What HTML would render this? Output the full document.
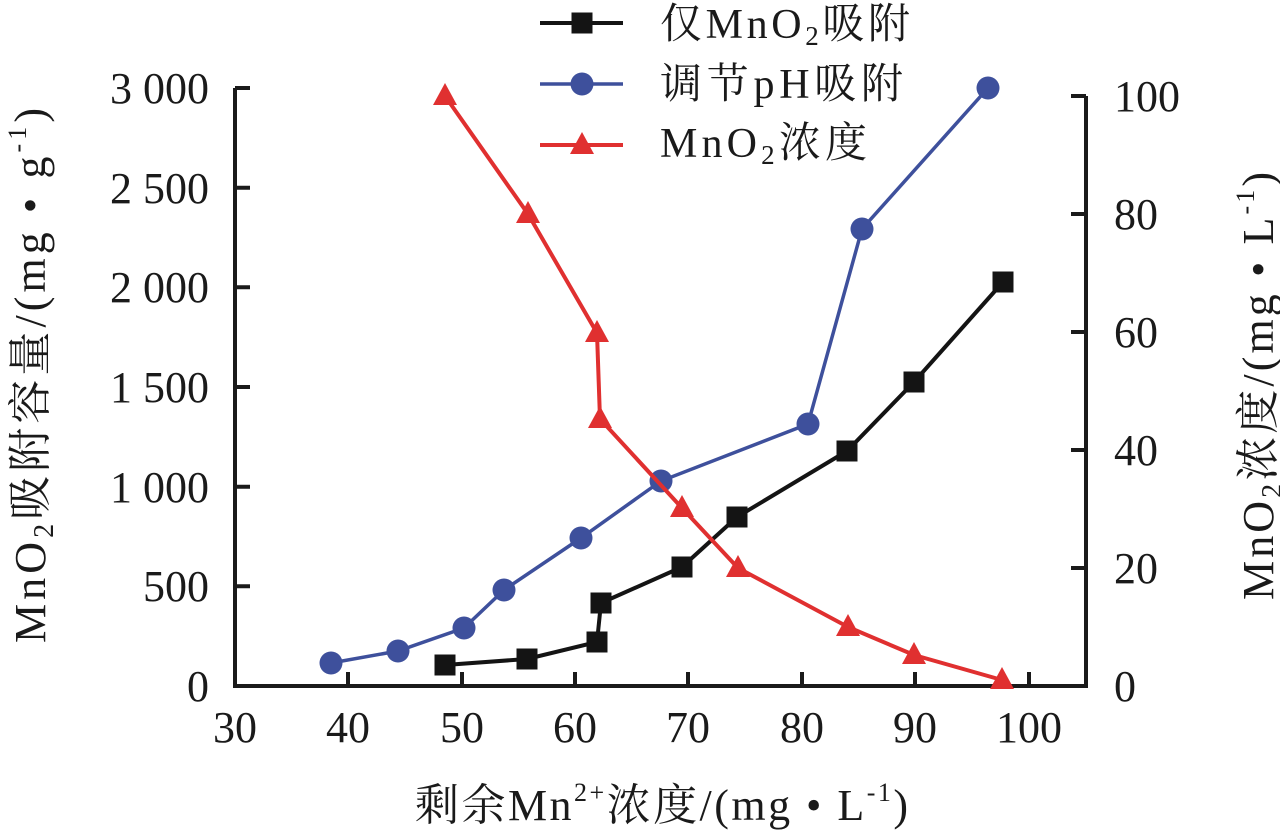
<!DOCTYPE html>
<html>
<head>
<meta charset="utf-8">
<style>
  html, body { margin: 0; padding: 0; background: #ffffff; }
  svg { display: block; }
  text { font-family: "Liberation Serif", "Noto Serif CJK SC", serif; fill: #1a1a1a; }
</style>
</head>
<body>
<svg width="1280" height="840" viewBox="0 0 1280 840" xmlns="http://www.w3.org/2000/svg">
  <rect x="0" y="0" width="1280" height="840" fill="#ffffff"/>

  <!-- Axes -->
  <g stroke="#1a1a1a" stroke-width="4" fill="none" stroke-linejoin="miter">
    <path d="M235,88 L235,686 L1086,686 L1086,96"/>
    <path d="M235,88 H250 M235,187.7 H250 M235,287.3 H250 M235,387 H250 M235,486.7 H250 M235,586.3 H250"/>
    <path d="M1086,96 H1071 M1086,214 H1071 M1086,332 H1071 M1086,450 H1071 M1086,568 H1071"/>
    <path d="M348,686 V672 M462,686 V672 M575,686 V672 M688,686 V672 M802,686 V672 M915,686 V672 M1029,686 V672"/>
  </g>

  <!-- Left tick labels -->
  <g font-size="44" text-anchor="end">
    <text x="209" y="103">3 000</text>
    <text x="209" y="203">2 500</text>
    <text x="209" y="302">2 000</text>
    <text x="209" y="402">1 500</text>
    <text x="209" y="502">1 000</text>
    <text x="209" y="601">500</text>
    <text x="209" y="701">0</text>
  </g>

  <!-- Right tick labels -->
  <g font-size="44" text-anchor="start">
    <text x="1114" y="111">100</text>
    <text x="1114" y="229">80</text>
    <text x="1114" y="347">60</text>
    <text x="1114" y="465">40</text>
    <text x="1114" y="583">20</text>
    <text x="1114" y="701">0</text>
  </g>

  <!-- Bottom tick labels -->
  <g font-size="44" text-anchor="middle">
    <text x="235" y="742">30</text>
    <text x="348" y="742">40</text>
    <text x="462" y="742">50</text>
    <text x="575" y="742">60</text>
    <text x="688" y="742">70</text>
    <text x="802" y="742">80</text>
    <text x="915" y="742">90</text>
    <text x="1029" y="742">100</text>
  </g>

  <!-- X title -->
  <text x="415" y="820" font-size="44" textLength="493" lengthAdjust="spacing">剩余Mn<tspan font-size="26" dy="-19">2+</tspan><tspan dy="19">浓度/(mg • L</tspan><tspan font-size="26" dy="-19">-1</tspan><tspan dy="19">)</tspan></text>

  <!-- Left Y title -->
  <text transform="translate(45,643) rotate(-90)" font-size="44" textLength="535" lengthAdjust="spacing">MnO<tspan font-size="28" dy="8">2</tspan><tspan dy="-8">吸附容量/(mg • g</tspan><tspan font-size="26" dy="-19">-1</tspan><tspan dy="19">)</tspan></text>

  <!-- Right Y title -->
  <text transform="translate(1273,600) rotate(-90)" font-size="44" textLength="428" lengthAdjust="spacing">MnO<tspan font-size="28" dy="8">2</tspan><tspan dy="-8">浓度/(mg • L</tspan><tspan font-size="26" dy="-19">-1</tspan><tspan dy="19">)</tspan></text>

  <!-- Series: Blue -->
  <g>
    <polyline fill="none" stroke="#3e509c" stroke-width="3.5" points="331,663 398,651 464,628 504,590 581,538 661,481 808,424 862,229 988,88"/>
    <g fill="#3e509c">
      <circle cx="331" cy="663" r="11.5"/>
      <circle cx="398" cy="651" r="11.5"/>
      <circle cx="464" cy="628" r="11.5"/>
      <circle cx="504" cy="590" r="11.5"/>
      <circle cx="581" cy="538" r="11.5"/>
      <circle cx="661" cy="481" r="11.5"/>
      <circle cx="808" cy="424" r="11.5"/>
      <circle cx="862" cy="229" r="11.5"/>
      <circle cx="988" cy="88" r="11.5"/>
    </g>
  </g>

  <!-- Series: Black -->
  <g>
    <polyline fill="none" stroke="#141414" stroke-width="4" points="445,665 527,659 597,642 601,603 682,567 737,517 847,451 914,382 1003,282"/>
    <g fill="#141414">
      <rect x="434.5" y="654.5" width="21" height="21"/>
      <rect x="516.5" y="648.5" width="21" height="21"/>
      <rect x="586.5" y="631.5" width="21" height="21"/>
      <rect x="590.5" y="592.5" width="21" height="21"/>
      <rect x="671.5" y="556.5" width="21" height="21"/>
      <rect x="726.5" y="506.5" width="21" height="21"/>
      <rect x="836.5" y="440.5" width="21" height="21"/>
      <rect x="903.5" y="371.5" width="21" height="21"/>
      <rect x="992.5" y="271.5" width="21" height="21"/>
    </g>
  </g>

  <!-- Series: Red -->
  <g>
    <polyline fill="none" stroke="#e03030" stroke-width="4" points="445,96 528,214 597,333 600,419 682,508 738,568 848,627 914,655 1002,680"/>
    <g fill="#e03030">
      <polygon points="445,83 433,105 457,105"/>
      <polygon points="528,201 516,223 540,223"/>
      <polygon points="597,320 585,342 609,342"/>
      <polygon points="600,406 588,428 612,428"/>
      <polygon points="682,495 670,517 694,517"/>
      <polygon points="738,555 726,577 750,577"/>
      <polygon points="848,614 836,636 860,636"/>
      <polygon points="914,642 902,664 926,664"/>
      <polygon points="1002,667 990,689 1014,689"/>
    </g>
  </g>

  <!-- Legend -->
  <g>
    <line x1="540" y1="23" x2="623" y2="23" stroke="#141414" stroke-width="4"/>
    <rect x="571.5" y="12.5" width="21" height="21" fill="#141414"/>
    <line x1="540" y1="84" x2="623" y2="84" stroke="#3e509c" stroke-width="3.5"/>
    <circle cx="582" cy="84" r="11.5" fill="#3e509c"/>
    <line x1="540" y1="145" x2="623" y2="145" stroke="#e03030" stroke-width="4"/>
    <polygon points="582,132 570,154 594,154" fill="#e03030"/>
  </g>
  <g font-size="42">
    <text x="660" y="38" textLength="250" lengthAdjust="spacing">仅MnO<tspan font-size="27" dy="7">2</tspan><tspan dy="-7">吸附</tspan></text>
    <text x="660" y="98" textLength="243" lengthAdjust="spacing">调节pH吸附</text>
    <text x="660" y="157" textLength="207" lengthAdjust="spacing">MnO<tspan font-size="27" dy="7">2</tspan><tspan dy="-7">浓度</tspan></text>
  </g>
</svg>
</body>
</html>
